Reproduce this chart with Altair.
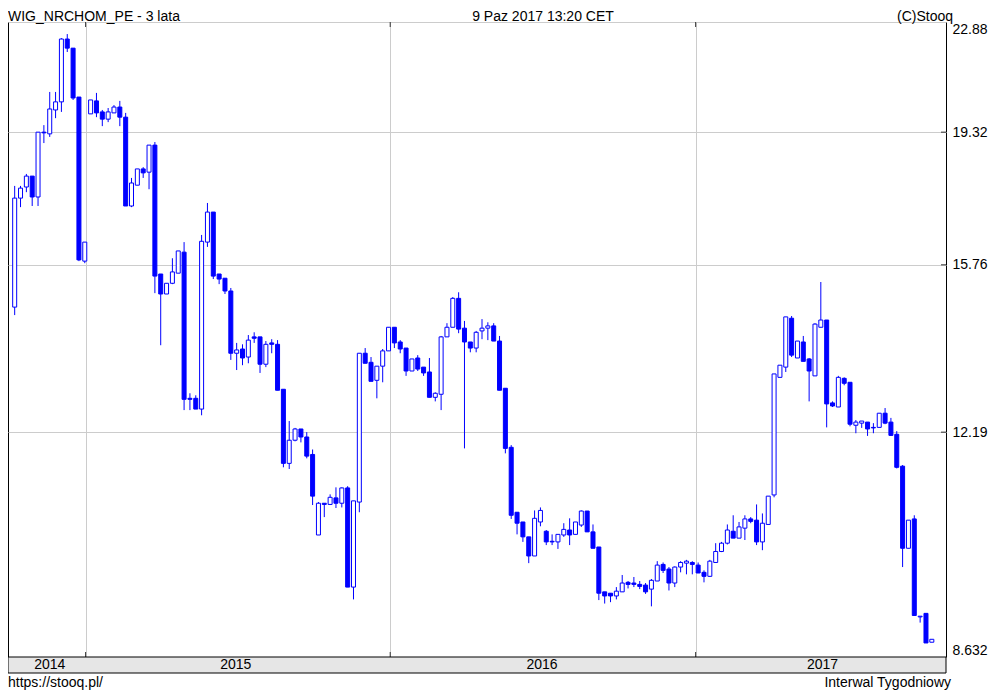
import altair as alt
import pandas as pd

# Weekly candles (open, high, low, close)
opens = [14.77, 17.46, 17.76, 18.06, 17.49, 19.32, 19.27, 19.99, 20.24, 22.29,
         21.98, 20.39, 15.85, 19.87, 20.27, 19.93, 19.71, 19.90, 20.08, 19.77,
         17.25, 17.81, 18.26, 18.17, 18.94, 15.54, 15.07, 15.32, 15.56, 16.07,
         12.84, 12.84, 12.63, 16.32, 17.09, 15.54, 15.44, 15.14, 13.76, 13.85,
         13.68, 14.11, 14.11, 13.53, 13.98, 13.95, 13.02, 11.62, 12.04, 12.25,
         12.10, 11.78, 10.41, 10.93, 10.91, 11.02, 10.93, 11.19, 9.61, 10.95,
         13.76, 13.57, 13.20, 13.49, 13.81, 14.32, 14.00, 13.87, 13.39, 13.66,
         13.47, 13.37, 12.86, 12.92, 14.11, 14.32, 14.97, 14.30, 14.00, 13.87,
         14.24, 14.30, 14.35, 14.02, 13.04, 11.91, 10.78, 10.62, 10.38, 10.08,
         10.62, 10.47, 10.31, 10.30, 10.41, 10.49, 10.42, 10.57, 10.80, 10.46,
         10.22, 9.54, 9.52, 9.48, 9.54, 9.68, 9.67, 9.65, 9.64, 9.58,
         9.70, 9.95, 9.88, 9.67, 9.91, 9.97, 9.98, 9.94, 9.83, 9.77,
         9.98, 10.15, 10.28, 10.47, 10.36, 10.52, 10.67, 10.65, 10.30, 10.58,
         11.07, 13.26, 13.47, 14.52, 13.66, 14.00, 13.64, 13.29, 14.32, 14.48,
         12.75, 12.67, 13.24, 13.16, 12.32, 12.36, 12.38, 12.28, 12.28, 12.55,
         12.38, 12.15, 11.57, 10.20, 10.67, 9.18, 9.23, 8.83]
highs = [17.79, 17.79, 18.12, 18.06, 19.32, 19.53, 20.55, 20.55, 22.32, 22.46,
         21.98, 20.39, 16.32, 20.30, 20.52, 19.99, 20.05, 20.14, 20.27, 19.90,
         18.01, 18.26, 18.31, 18.94, 19.03, 15.54, 15.32, 15.92, 16.10, 16.32,
         12.94, 12.90, 16.50, 17.33, 17.09, 15.54, 15.44, 15.21, 13.98, 13.95,
         14.15, 14.21, 14.11, 14.02, 14.06, 14.04, 13.02, 12.40, 12.27, 12.25,
         12.19, 11.87, 10.95, 10.93, 11.08, 11.20, 11.20, 11.22, 10.97, 13.76,
         13.87, 13.68, 13.49, 13.85, 14.32, 14.32, 14.04, 13.87, 13.64, 13.72,
         13.47, 13.66, 12.96, 14.13, 14.41, 15.00, 15.11, 14.46, 14.00, 14.24,
         14.50, 14.43, 14.41, 14.13, 13.04, 11.95, 10.78, 10.62, 10.38, 10.81,
         10.86, 10.49, 10.42, 10.42, 10.60, 10.68, 10.62, 10.81, 10.80, 10.58,
         10.22, 9.54, 9.52, 9.61, 9.79, 9.70, 9.76, 9.70, 9.67, 9.73,
         10.00, 9.98, 9.91, 9.92, 10.00, 10.02, 10.00, 9.98, 9.86, 10.02,
         10.28, 10.30, 10.58, 10.73, 10.62, 10.73, 10.70, 10.91, 10.76, 11.05,
         13.33, 13.51, 14.55, 14.57, 14.02, 14.13, 13.66, 14.41, 15.35, 14.48,
         12.78, 13.29, 13.26, 13.16, 12.42, 12.40, 12.38, 12.36, 12.55, 12.65,
         12.46, 12.21, 11.59, 10.65, 10.73, 9.19, 9.23, 8.87]
lows = [14.59, 17.22, 17.62, 17.25, 17.25, 19.00, 19.18, 19.74, 19.93, 21.85,
        20.30, 15.85, 15.80, 19.87, 19.77, 19.50, 19.62, 19.90, 19.50, 17.25,
        17.22, 17.81, 18.01, 17.70, 15.09, 13.93, 15.07, 15.30, 15.56, 12.61,
        12.61, 12.63, 12.51, 16.20, 15.42, 15.30, 15.07, 13.62, 13.41, 13.51,
        13.55, 13.98, 13.35, 13.47, 13.76, 13.00, 11.55, 11.52, 12.02, 12.00,
        11.71, 10.90, 10.41, 10.70, 10.90, 10.85, 10.86, 9.61, 9.43, 10.78,
        13.55, 13.18, 12.84, 13.16, 13.81, 13.87, 13.76, 13.29, 13.39, 13.39,
        13.29, 12.86, 12.78, 12.61, 14.11, 14.32, 14.19, 11.89, 13.78, 13.78,
        14.06, 14.04, 14.02, 13.00, 11.80, 10.67, 10.42, 10.30, 9.97, 10.08,
        10.55, 10.25, 10.25, 10.19, 10.38, 10.25, 10.42, 10.54, 10.46, 10.20,
        9.42, 9.37, 9.39, 9.43, 9.54, 9.59, 9.61, 9.58, 9.51, 9.33,
        9.70, 9.82, 9.56, 9.61, 9.83, 9.80, 9.80, 9.82, 9.68, 9.76,
        9.98, 10.14, 10.26, 10.36, 10.36, 10.33, 10.60, 10.25, 10.17, 10.58,
        11.03, 13.26, 13.37, 13.68, 13.66, 13.59, 12.78, 13.29, 14.32, 12.28,
        12.67, 12.67, 13.10, 12.30, 12.17, 12.27, 12.12, 12.17, 12.28, 12.34,
        12.12, 11.53, 9.91, 10.20, 9.20, 9.10, 8.82, 8.83]
closes = [17.46, 17.73, 18.06, 17.49, 19.32, 19.30, 20.02, 20.24, 22.29, 21.98,
          20.36, 15.88, 16.32, 20.30, 19.90, 19.71, 19.93, 20.08, 19.77, 17.25,
          17.87, 18.26, 18.15, 18.94, 15.49, 15.07, 15.32, 15.59, 16.10, 12.82,
          12.82, 12.63, 16.34, 17.09, 15.49, 15.42, 15.14, 13.76, 13.83, 13.66,
          14.04, 14.08, 13.53, 13.95, 13.95, 13.00, 11.62, 12.04, 12.25, 12.10,
          11.75, 11.05, 10.93, 10.91, 11.03, 10.93, 11.19, 9.61, 10.97, 13.76,
          13.55, 13.18, 13.49, 13.81, 14.32, 13.98, 13.85, 13.39, 13.64, 13.43,
          13.35, 12.86, 12.94, 14.11, 14.32, 14.97, 14.28, 14.00, 13.87, 14.21,
          14.30, 14.35, 14.02, 13.00, 11.89, 10.73, 10.60, 10.38, 10.08, 10.68,
          10.81, 10.30, 10.30, 10.42, 10.50, 10.41, 10.62, 10.80, 10.46, 10.20,
          9.52, 9.48, 9.48, 9.55, 9.67, 9.65, 9.65, 9.62, 9.54, 9.71,
          9.94, 9.86, 9.67, 9.91, 9.98, 10.00, 9.95, 9.82, 9.77, 10.00,
          10.15, 10.28, 10.49, 10.36, 10.54, 10.67, 10.63, 10.30, 10.60, 11.05,
          13.33, 13.51, 14.55, 13.72, 14.02, 13.59, 13.39, 14.39, 14.48, 12.73,
          12.69, 13.26, 13.14, 12.34, 12.38, 12.40, 12.25, 12.27, 12.55, 12.36,
          12.13, 11.55, 10.20, 10.65, 9.20, 9.19, 8.82, 8.87]

first_week = "2014-10-08"
y_ticks = [8.632, 12.19, 15.76, 19.32, 22.88]
year_lines = ["2015-01-01", "2016-01-01", "2017-01-01"]
year_labels = ["2014", "2015", "2016", "2017"]
year_label_dates = ["2014-11-19", "2015-06-30", "2016-07-01", "2017-06-02"]

W, H = 938, 635
BLUE = "#0000ff"
GRID = "#cccccc"
FONT = "Liberation Sans"

df = pd.DataFrame({
    "date": pd.date_range(first_week, periods=len(opens), freq="7D"),
    "open": opens, "high": highs, "low": lows, "close": closes,
})
df["fill"] = [BLUE if c < o else "#ffffff" for o, c in zip(opens, closes)]

xs = alt.Scale(domain=[alt.DateTime(year=2014, month=9, date=30),
                       alt.DateTime(year=2017, month=10, date=28)], padding=0)
ys = alt.Scale(type="log", domain=[8.632, 22.88], nice=False, zero=False)

x_axis = alt.Axis(values=[alt.DateTime(year=int(d[:4]), month=1, date=1) for d in year_lines],
                  grid=True, gridColor=GRID, gridWidth=1, labels=False, ticks=False,
                  domain=False, title=None)
y_axis = alt.Axis(orient="right", values=y_ticks, format=".4r", grid=True, gridColor=GRID,
                  gridWidth=1, ticks=False, tickSize=0, domain=False, labelFlush=True,
                  labelPadding=6, labelFontSize=14, labelFont=FONT, labelColor="black",
                  title=None)

X = alt.X("date:T", scale=xs, axis=x_axis)

wicks = alt.Chart(df).mark_rule(color=BLUE, strokeWidth=1).encode(
    x=X, y=alt.Y("low:Q", scale=ys, axis=y_axis), y2="high:Q")
bodies = alt.Chart(df).mark_bar(size=4, stroke=BLUE, strokeWidth=1).encode(
    x=X, y=alt.Y("open:Q", scale=ys, axis=y_axis), y2="close:Q",
    fill=alt.Fill("fill:N", scale=None))

yl_df = pd.DataFrame({"date": pd.to_datetime(year_lines)})
top_ticks = alt.Chart(yl_df).mark_rule(color="#333333").encode(
    x=X, y=alt.value(0), y2=alt.value(5))
bot_ticks = alt.Chart(yl_df).mark_rule(color="#333333").encode(
    x=X, y=alt.value(H - 5), y2=alt.value(H))

yt_df = pd.DataFrame({"v": y_ticks[1:4]})
right_ticks = alt.Chart(yt_df).mark_rule(color="#333333").encode(
    y=alt.Y("v:Q", scale=ys, axis=y_axis), x=alt.value(W - 5), x2=alt.value(W))

one = pd.DataFrame({"a": [0]})
band = alt.Chart(one).mark_rect(fill="#e6e6e6", stroke="black", strokeWidth=1).encode(
    x=alt.value(0), x2=alt.value(W), y=alt.value(H), y2=alt.value(H + 16))

lab_df = pd.DataFrame({"date": pd.to_datetime(year_label_dates), "label": year_labels})
year_text = alt.Chart(lab_df).mark_text(font=FONT, fontSize=14, color="black",
                                        align="center", baseline="middle").encode(
    x=X, y=alt.value(H + 8), text="label:N")


def txt(s, x, y, align):
    return alt.Chart(one).mark_text(font=FONT, fontSize=14, color="black",
                                    align=align, baseline="alphabetic").encode(
        x=alt.value(x), y=alt.value(y), text=alt.value(s))


texts = [
    txt("WIG_NRCHOM_PE - 3 lata", 0, -1, "left"),
    txt("9 Paz 2017 13:20 CET", 535, -1, "center"),
    txt("(C)Stooq", 945, -1, "right"),
    txt("https://stooq.pl/", 0, H + 30, "left"),
    txt("Interwal Tygodniowy", 943, H + 30, "right"),
]

chart = alt.layer(wicks, bodies, top_ticks, bot_ticks, right_ticks, band, year_text, *texts).properties(
    width=W, height=H,
    padding={"left": 0, "top": 14, "right": 43, "bottom": 33},
    autosize=alt.AutoSizeParams(type="none"),
).configure(font=FONT).configure_view(stroke="black", strokeWidth=1)

chart.save("out.html", embed_options={"renderer": "svg", "actions": False})
